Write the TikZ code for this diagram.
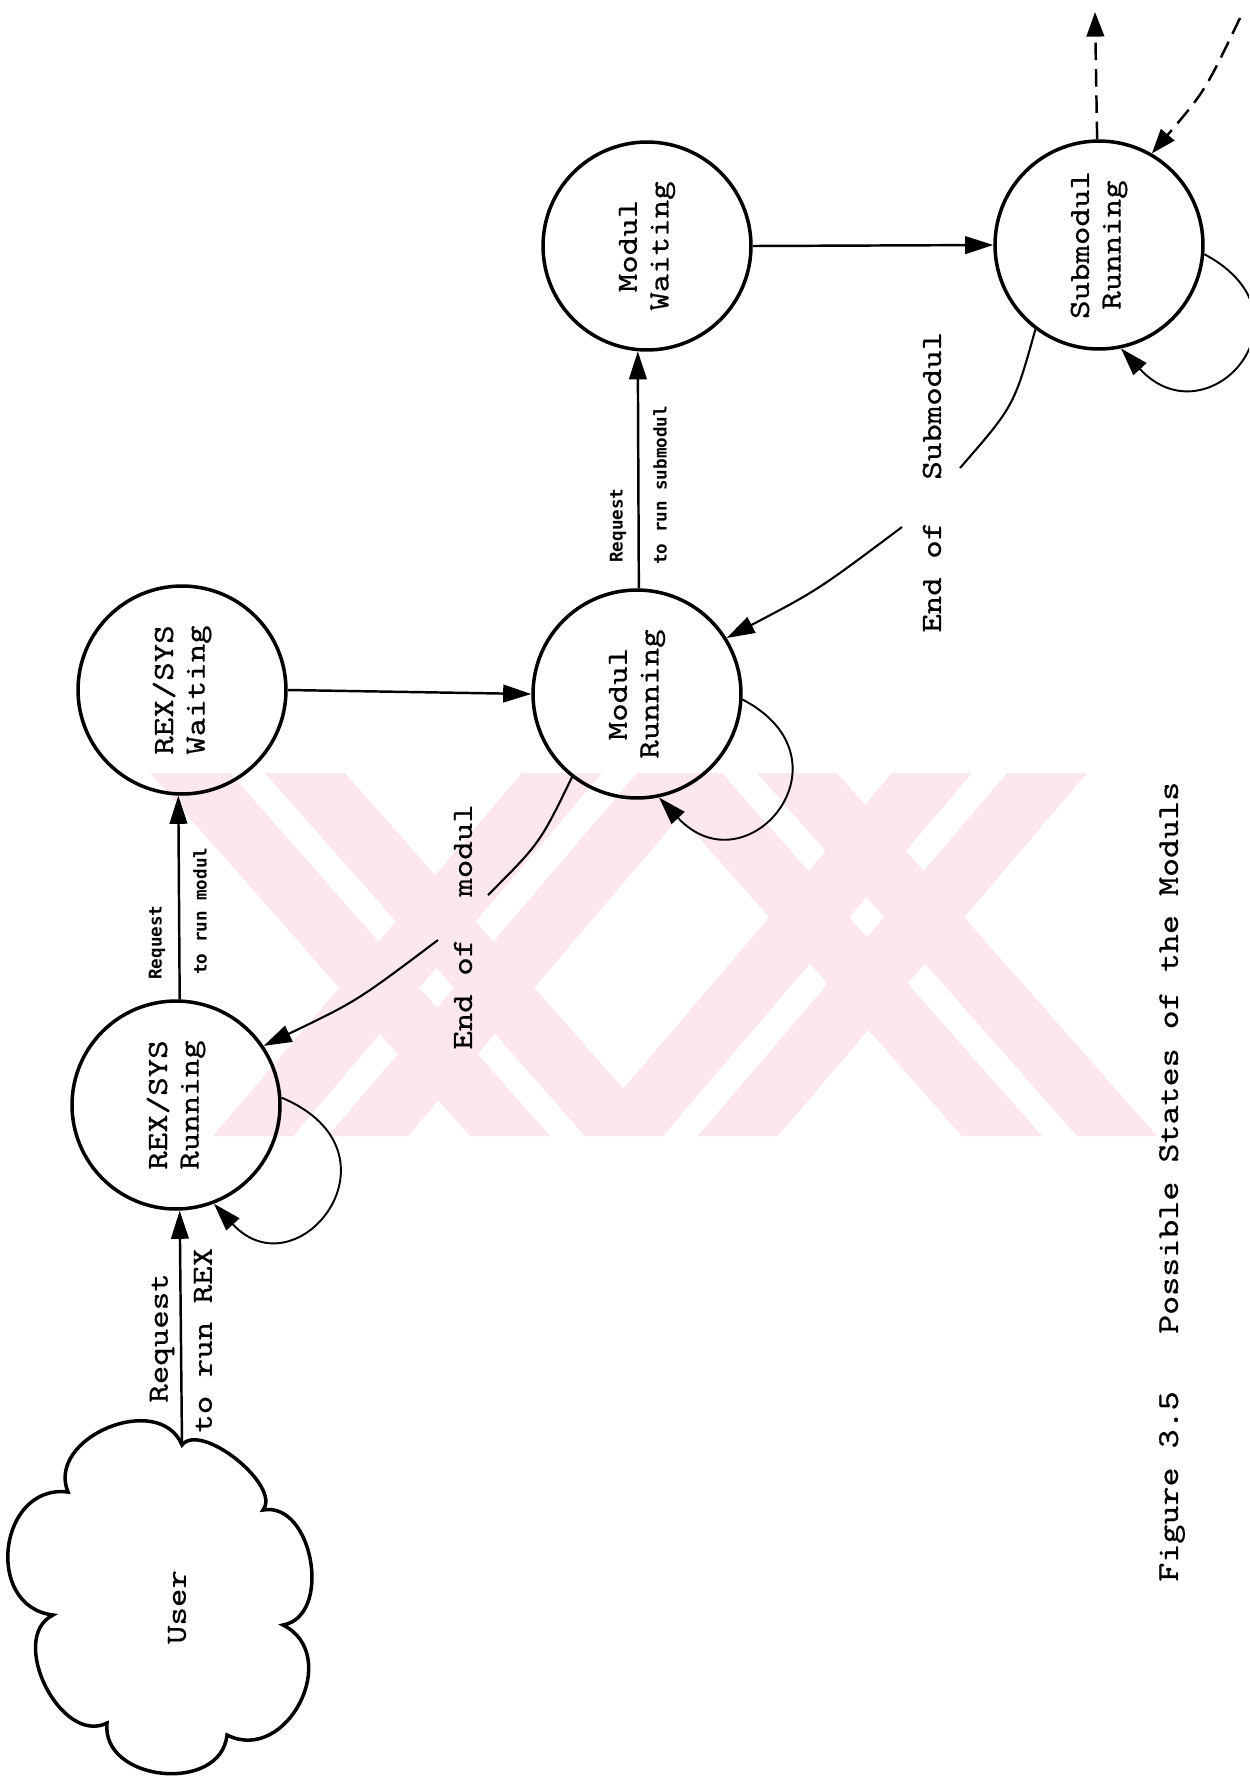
\documentclass[tikz,border=0pt]{standalone}
\usepackage{fontspec}
\usetikzlibrary{arrows.meta}
\newfontfamily\tw{lmmono10-regular.otf}[FakeStretch=1.2,FakeBold=0.6]
\newfontfamily\lbl{DejaVu Sans Mono}
\definecolor{wmpink}{RGB}{252,231,236}
\begin{document}
\begin{tikzpicture}[x=0.02cm,y=-0.02cm,
  tip/.style={-{Triangle[length=16pt,width=10pt]}},
  state/.style={draw,circle,line width=2pt,minimum size=4.16cm,inner sep=0pt},
  stext/.style={rotate=90,align=center,inner sep=0pt,font=\tw\fontsize{16.7}{18}\selectfont},
  lab/.style={rotate=90,anchor=west,inner sep=0pt,font=\tw\fontsize{16.7}{18}\selectfont},
  small/.style={rotate=90,anchor=west,inner sep=0pt,font=\lbl\bfseries\fontsize{10}{12}\selectfont},
  conn/.style={tip,line width=1.4pt},
  retline/.style={line width=1.2pt},
  selfloop/.style={tip,line width=1.1pt},
  dashline/.style={line width=1.4pt,dash pattern=on 10pt off 5pt}
]
\useasboundingbox (0,0) rectangle (1249,1779);
\fill[white] (0,0) rectangle (1249,1779);
\clip (0,0) rectangle (1249,1779);

% faint striped emblem in the background
\begin{scope}
  \clip (0,773) rectangle (1249,1136);
  % strokes falling to the right
  \foreach \a/\b in {150/230,265/345,642/722,757/837}
    \fill[wmpink] (\a,773) -- (\b,773) -- (\b+320,1136) -- (\a+320,1136) -- cycle;
  % strokes rising to the right
  \foreach \a/\b in {213/293,328/408,583/663,698/778}
    \fill[wmpink] (\a,1136) -- (\b,1136) -- (\b+309,773) -- (\a+309,773) -- cycle;
\end{scope}

% the user, drawn as a cloud
\draw[line width=2pt] (182,1445)
  .. controls (201,1421) and (282,1486) .. (263,1510)
  .. controls (313,1501) and (333,1616) .. (283,1625)
  .. controls (343,1655) and (287,1765) .. (227,1735)
  .. controls (221,1794) and (101,1782) .. (107,1723)
  .. controls (61,1746) and (7,1638) .. (53,1615)
  .. controls (-16.5,1606.5) and (-1.5,1483.5) .. (68,1492)
  .. controls (45.5,1437.4) and (159.5,1390.4) .. (182,1445) -- cycle;
\coordinate (usertop) at (182,1445);
\node[stext] (user) at (177,1607) {User};

% states
\node[state] (RR) at (176,1105) {};
\node[stext] (RRt) at (RR) {REX/SYS\\Running};
\node[state] (RW) at (182,690) {};
\node[stext] (RWt) at (RW) {REX/SYS\\Waiting};
\node[state] (MR) at (637,694) {};
\node[stext] (MRt) at (MR) {Modul\\Running};
\node[state] (MW) at (647,246) {};
\node[stext] (MWt) at (MW) {Modul\\Waiting};
\node[state] (SR) at (1099,245) {};
\node[stext] (SRt) at (SR) {Submodul\\Running};

% requests
\draw[conn] (usertop) -- (RR.-88);
\node[lab] (l1a) at (162,1403) {Request};
\node[lab] (l1b) at (203,1433) {to run REX};

\draw[conn] (RR.88) -- (RW.-92);
\node[small] (l2a) at (157,980) {Request};
\node[small] (l2b) at (200,975) {to run modul};

\draw[conn] (RW.east) -- (MR.west);

\draw[conn] (MR.89) -- (MW.-95);
\node[small] (l3a) at (618,563) {Request};
\node[small] (l3b) at (660,565) {to run submodul};

\draw[conn] (MW.east) -- (SR.west);

% self loops
\draw[selfloop] (RR.4) .. controls (411,1152) and (298,1295) .. (RR.-69);
\draw[selfloop] (MR.-3) .. controls (858,760) and (747,892) .. (MR.-78);
\draw[selfloop] (SR.-5) .. controls (1321,316) and (1208,443) .. (SR.-78.5);

% returns
\coordinate (em1) at (488,895);
\coordinate (em2) at (438,940);
\draw[retline] (MR.232) .. controls (540,843) .. (em1);
\draw[retline,tip] (em2) .. controls (357,1001) .. (RR.34);
\node[lab] (l4a) at (463,1050) {End of};
\node[lab] (l4b) at (463,897) {modul};

\coordinate (es1) at (960,468);
\coordinate (es2) at (902,527);
\draw[retline] (SR.233) .. controls (1014,406) .. (es1);
\draw[retline,tip] (es2) .. controls (818,590) .. (MR.32.5);
\node[lab] (l5a) at (932,633) {End of};
\node[lab] (l5b) at (932,480) {Submodul};

% further calls
\coordinate (tout) at (1095,12);
\coordinate (tin) at (1240,18);
\draw[dashline,-{Triangle[length=14pt,width=10pt]}] (SR.91) -- (tout);
\draw[dashline,-{Triangle[length=14pt,width=10pt]}] (tin) .. controls (1205,91) .. (SR.60);

% caption
\node[lab,font=\tw\fontsize{17.2}{18}\selectfont] (cap) at (1172,1582) {Figure 3.5\hspace{1.9em}Possible States of the Moduls};
\end{tikzpicture}
\end{document}
